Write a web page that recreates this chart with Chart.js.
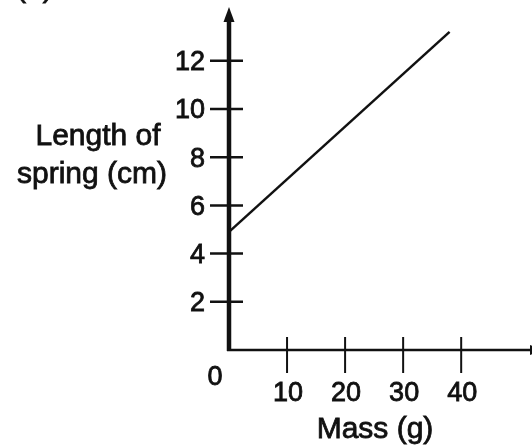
<!DOCTYPE html>
<html lang="en">
<head>
<meta charset="UTF-8">
<title>Length of spring against mass</title>
<style>
  html, body { margin: 0; padding: 0; background: #fff; }
  #wrap { width: 532px; height: 445px; }
</style>
</head>
<body>
<div id="wrap"><canvas id="springChart" width="532" height="445"></canvas></div>
<script src="https://cdn.jsdelivr.net/npm/chart.js"></script>
<script>
// values
const massValues = [0, 38];          // g
const lengthValues = [4.9, 13.2];    // cm
const massTicks = [10, 20, 30, 40];
const lengthTicks = [2, 4, 6, 8, 10, 12];
const xTitle = 'Mass (g)';
const yTitle = ['Length of', 'spring (cm)'];

const INK = '#111';
const tickFont = '27px "Liberation Sans", Arial, sans-serif';
const titleFont = '30px "Liberation Sans", Arial, sans-serif';

// scanned print looks a bit heavier than a plain font
function inkText(ctx, s, px, py) {
  ctx.fillText(s, px, py);
  ctx.lineWidth = 0.8;
  ctx.strokeText(s, px, py);
}

// hand-drawn style axes: thick y axis with arrow, ticks crossing the axis lines
const axesPlugin = {
  id: 'handAxes',
  afterDatasetsDraw(chart) {
    const { ctx, chartArea: a, scales: { x, y } } = chart;
    const x0 = x.getPixelForValue(0);
    const y0 = y.getPixelForValue(0);
    ctx.save();
    ctx.strokeStyle = INK;
    ctx.fillStyle = INK;

    // y axis + arrow head
    ctx.lineWidth = 4.5;
    ctx.beginPath();
    ctx.moveTo(x0, y0 + 1);
    ctx.lineTo(x0, a.top + 10);
    ctx.stroke();
    ctx.beginPath();
    ctx.moveTo(x0, a.top);
    ctx.lineTo(x0 - 5.5, a.top + 15);
    ctx.lineTo(x0 + 5.5, a.top + 15);
    ctx.closePath();
    ctx.fill();

    // x axis, arrow mostly off the edge
    ctx.lineWidth = 2.5;
    ctx.beginPath();
    ctx.moveTo(x0 - 2, y0);
    ctx.lineTo(a.right, y0);
    ctx.stroke();
    ctx.beginPath();
    ctx.moveTo(a.right + 10, y0);
    ctx.lineTo(a.right - 2, y0 - 5);
    ctx.lineTo(a.right - 2, y0 + 5);
    ctx.closePath();
    ctx.fill();

    // y ticks and labels
    ctx.font = tickFont;
    ctx.textAlign = 'right';
    ctx.textBaseline = 'middle';
    lengthTicks.forEach(v => {
      const py = y.getPixelForValue(v);
      ctx.lineWidth = 2.5;
      ctx.beginPath();
      ctx.moveTo(x0 - 19, py);
      ctx.lineTo(x0 + 14, py);
      ctx.stroke();
      inkText(ctx, String(v), x0 - 24, py + 2);
    });

    // x ticks and labels
    ctx.textAlign = 'center';
    massTicks.forEach(v => {
      const px = x.getPixelForValue(v);
      ctx.lineWidth = 2;
      ctx.beginPath();
      ctx.moveTo(px, y0 - 13);
      ctx.lineTo(px, y0 + 23);
      ctx.stroke();
      inkText(ctx, String(v), px + 1, y0 + 44);
    });

    // origin label
    inkText(ctx, '0', x0 - 14, y0 + 28);

    // titles
    ctx.font = titleFont;
    ctx.textBaseline = 'alphabetic';
    inkText(ctx, xTitle, x0 + 146, y0 + 88);
    inkText(ctx, yTitle[0], x0 - 131, a.top + 138);
    inkText(ctx, yTitle[1], x0 - 137, a.top + 176);

    // part label cut off at the top edge
    ctx.textAlign = 'left';
    inkText(ctx, '(a)', 16, -3);
    ctx.restore();
  }
};

new Chart(document.getElementById('springChart'), {
  type: 'scatter',
  data: {
    datasets: [{
      data: massValues.map((m, i) => ({ x: m, y: lengthValues[i] })),
      showLine: true,
      borderColor: INK,
      borderWidth: 2.5,
      pointRadius: 0,
      tension: 0,
      fill: false
    }]
  },
  options: {
    responsive: false,
    animation: false,
    devicePixelRatio: 1,
    layout: { padding: { left: 229, right: 0, top: 7, bottom: 95 } },
    plugins: {
      legend: { display: false },
      tooltip: { enabled: false }
    },
    scales: {
      x: { type: 'linear', display: false, min: 0, max: 52.2 },
      y: { type: 'linear', display: false, min: 0, max: 14.23 }
    }
  },
  plugins: [axesPlugin]
});
</script>
</body>
</html>
